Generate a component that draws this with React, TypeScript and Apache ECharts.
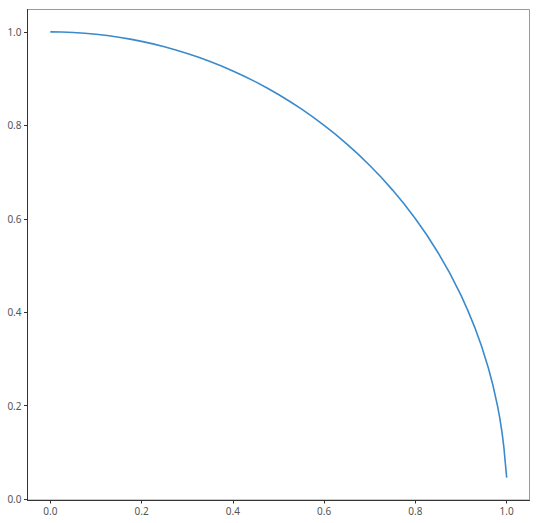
import React, { useEffect, useRef } from "react";
import * as echarts from "echarts";

const xValues = [0, 0.025, 0.05, 0.075, 0.1, 0.125, 0.15, 0.175, 0.2, 0.225, 0.25, 0.275, 0.3, 0.325, 0.35, 0.375, 0.4, 0.425, 0.45, 0.475, 0.5, 0.525, 0.55, 0.575, 0.6, 0.625, 0.65, 0.675, 0.7, 0.725, 0.75, 0.775, 0.8, 0.825, 0.85, 0.875, 0.9, 0.915, 0.93, 0.945, 0.96, 0.97, 0.98, 0.985, 0.99, 0.994, 0.997, 1.0];
const yValues = [1.0, 0.9997, 0.9987, 0.9972, 0.995, 0.9922, 0.9887, 0.9846, 0.9798, 0.9744, 0.9682, 0.9614, 0.9539, 0.9457, 0.9367, 0.927, 0.9165, 0.9052, 0.893, 0.88, 0.866, 0.8511, 0.8352, 0.8182, 0.8, 0.7806, 0.7599, 0.7378, 0.7141, 0.6888, 0.6614, 0.632, 0.6, 0.5652, 0.5268, 0.4841, 0.4359, 0.4035, 0.3676, 0.3271, 0.28, 0.2431, 0.199, 0.1726, 0.1411, 0.1094, 0.0774, 0.046];
const xTicks = [0, 0.2, 0.4, 0.6, 0.8, 1.0];
const yTicks = [0, 0.2, 0.4, 0.6, 0.8, 1.0];

export default function App() {
  const ref = useRef<HTMLDivElement>(null);
  useEffect(() => {
    const chart = echarts.init(ref.current!, null, { renderer: "svg" });
    const labelStyle = { color: "#555", fontSize: 10, fontFamily: "Noto Sans", formatter: (v: number) => v.toFixed(1) };
    chart.setOption({
      animation: false,
      grid: { left: 27.5, top: 9.5, right: 11.5, bottom: 23, show: true, borderColor: "#999", borderWidth: 1, backgroundColor: "transparent" },
      xAxis: {
        type: "value",
        min: -0.05,
        max: 1.05,
        splitLine: { show: false },
        axisLine: { show: true, onZero: false, lineStyle: { color: "#333", width: 1 } },
        axisTick: { show: true, length: 3.5, customValues: xTicks, lineStyle: { color: "#333" } },
        axisLabel: { ...labelStyle, margin: 6, customValues: xTicks },
      },
      yAxis: {
        type: "value",
        min: -0.002,
        max: 1.048,
        splitLine: { show: false },
        axisLine: { show: true, onZero: false, lineStyle: { color: "#333", width: 1 } },
        axisTick: { show: true, length: 3.5, customValues: yTicks, lineStyle: { color: "#333" } },
        axisLabel: { ...labelStyle, margin: 6, customValues: yTicks },
      },
      series: [
        {
          type: "line",
          data: xValues.map((x, i) => [x, yValues[i]]),
          showSymbol: false,
          smooth: false,
          lineStyle: { color: "#3a8bcd", width: 1.6 },
        },
      ],
    });
    return () => chart.dispose();
  }, []);
  return <div ref={ref} style={{ position: "fixed", left: 0, top: 0, width: 541, height: 523, background: "#fff" }} />;
}
